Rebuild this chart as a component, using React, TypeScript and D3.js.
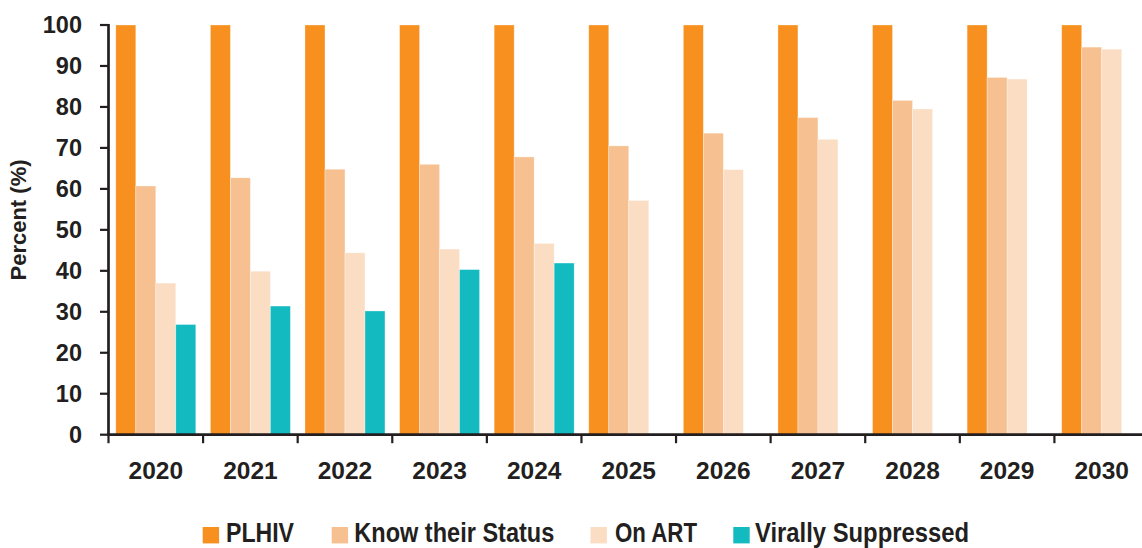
import React from "react";
import * as d3 from "d3";

const width = 1142;
const height = 548;
const margin = { top: 25, right: -7, bottom: 113.3, left: 108.5 };

const years = ["2020", "2021", "2022", "2023", "2024", "2025", "2026", "2027", "2028", "2029", "2030"];
const seriesNames = ["PLHIV", "Know their Status", "On ART", "Virally Suppressed"];
const seriesColors = ["#F7901E", "#F7C090", "#FADDC3", "#13BBC1"];

const plhiv = [100, 100, 100, 100, 100, 100, 100, 100, 100, 100, 100];
const knowStatus = [60.7, 62.7, 64.8, 66.0, 67.8, 70.5, 73.6, 77.4, 81.6, 87.2, 94.6];
const onArt = [37.0, 39.9, 44.4, 45.3, 46.7, 57.2, 64.7, 72.1, 79.5, 86.8, 94.1];
const virallySuppressed = [26.9, 31.4, 30.2, 40.3, 41.9, null, null, null, null, null, null];

const yTicks = [0, 10, 20, 30, 40, 50, 60, 70, 80, 90, 100];

const ink = "#231F20";

// legend slots: swatch x, text x, text width (narrow font squeezed to fit)
const legendPos = [
  { sx: 202.7, tx: 226, w: 68 },
  { sx: 331.7, tx: 354.3, w: 200 },
  { sx: 590.5, tx: 615, w: 82 },
  { sx: 733.3, tx: 755, w: 214 },
];

const App = () => {
  const allSeries = [plhiv, knowStatus, onArt, virallySuppressed];

  const x = d3.scaleBand().domain(years).range([margin.left, width - margin.right]).padding(0);
  const xInner = d3
    .scaleBand()
    .domain(seriesNames)
    .range([0, x.bandwidth()])
    .paddingInner(0)
    .paddingOuter(0.365);
  const y = d3.scaleLinear().domain([0, 100]).range([height - margin.bottom, margin.top]);
  const y0 = y(0);

  return (
    <svg
      width={width}
      height={height}
      style={{ position: "absolute", left: 0, top: 0, background: "#fff" }}
      fontFamily="'Liberation Sans', Arial, sans-serif"
    >
      {/* bars */}
      {years.map((yr, i) => (
        <g key={yr} transform={`translate(${x(yr)},0)`}>
          {allSeries.map((s, j) => {
            const v = s[i];
            if (v == null) return null;
            return (
              <rect
                key={j}
                x={xInner(seriesNames[j])}
                y={y(v)}
                width={xInner.bandwidth()}
                height={y0 - y(v)}
                fill={seriesColors[j]}
                stroke="#fff"
                strokeOpacity={0.45}
                strokeWidth={0.7}
              />
            );
          })}
        </g>
      ))}

      {/* y axis */}
      <line x1={margin.left} x2={margin.left} y1={y(100) - 1} y2={y0} stroke={ink} strokeWidth={2.7} />
      {yTicks.map((t) => (
        <g key={t}>
          <line x1={margin.left - 8.5} x2={margin.left} y1={y(t)} y2={y(t)} stroke={ink} strokeWidth={2.2} />
          <text
            x={82}
            y={y(t)}
            dy="0.36em"
            textAnchor="end"
            fontSize={23.5}
            fontWeight="bold"
            fill={ink}
          >
            {t}
          </text>
        </g>
      ))}
      <text
        transform={`translate(25.5,${220}) rotate(-90)`}
        textAnchor="middle"
        fontSize={22}
        fontWeight="bold"
        fill={ink}
      >
        Percent (%)
      </text>

      {/* x axis */}
      <line x1={margin.left - 1.3} x2={width} y1={y0} y2={y0} stroke={ink} strokeWidth={2.7} />
      {years.map((yr) => (
        <line
          key={"t" + yr}
          x1={x(yr)}
          x2={x(yr)}
          y1={y0}
          y2={y0 + 8.5}
          stroke={ink}
          strokeWidth={2.2}
        />
      ))}
      {years.map((yr) => (
        <text
          key={"l" + yr}
          x={(x(yr) as number) + x.bandwidth() / 2}
          y={479.3}
          textAnchor="middle"
          fontSize={24.5}
          fontWeight="bold"
          fill={ink}
        >
          {yr}
        </text>
      ))}

      {/* legend */}
      {legendPos.map((p, j) => (
        <g key={"lg" + j}>
          <rect x={p.sx} y={527} width={16.4} height={16.4} fill={seriesColors[j]} />
          <text
            x={p.tx}
            y={542}
            fontSize={27}
            fontWeight="bold"
            textLength={p.w}
            lengthAdjust="spacingAndGlyphs"
            fill={ink}
          >
            {seriesNames[j]}
          </text>
        </g>
      ))}
    </svg>
  );
};

export default App;
